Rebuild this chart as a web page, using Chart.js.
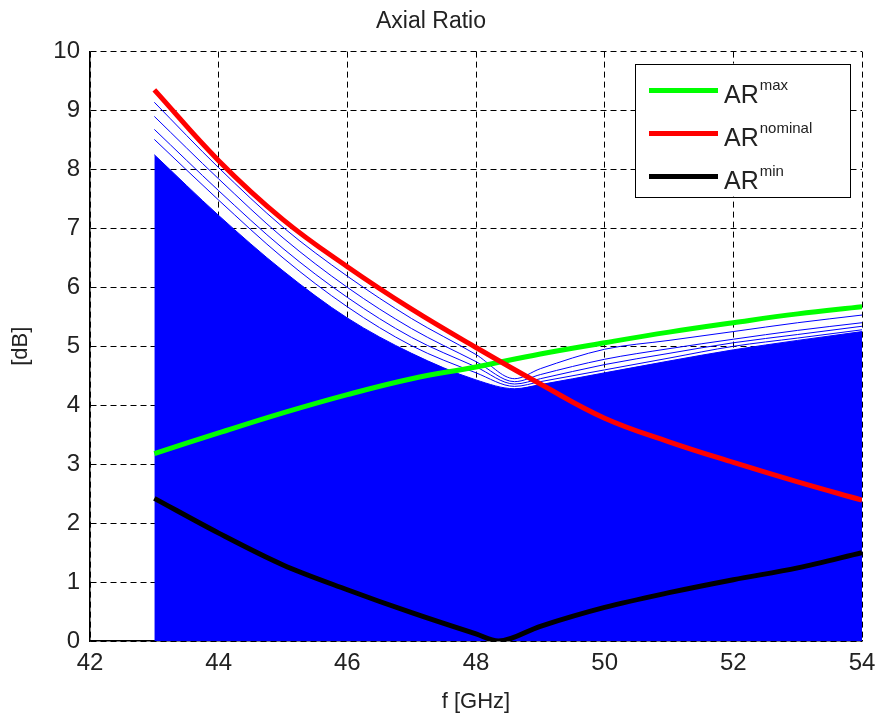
<!DOCTYPE html>
<html>
<head>
<meta charset="utf-8">
<title>Axial Ratio</title>
<script src="https://cdn.jsdelivr.net/npm/chart.js@4/dist/chart.umd.min.js"></script>
<style>
  html, body { margin: 0; padding: 0; background: #fff; }
</style>
</head>
<body>
<canvas id="arChart" width="879" height="717"></canvas>
<script>
// frequency points (GHz)
const freq = [43, 44, 45, 46, 47, 48, 49, 50, 51, 52, 53, 54];
const freqMin = [43, 44, 45, 46, 47, 48, 48.35, 49, 50, 51, 52, 53, 54];
const freqBand = [43, 44, 45, 46, 47, 48, 48.6, 49, 50, 51, 52, 53, 54];

// axial ratio curves (dB)
const arMax = [3.18, 3.53, 3.87, 4.18, 4.45, 4.65, 4.87, 5.06, 5.24, 5.40, 5.55, 5.67];
const arNominal = [9.35, 8.15, 7.15, 6.35, 5.63, 4.98, 4.36, 3.78, 3.38, 3.03, 2.70, 2.39];
const arMin = [2.42, 1.83, 1.29, 0.87, 0.48, 0.12, 0.0, 0.25, 0.57, 0.82, 1.04, 1.24, 1.50];

// blue cloud of simulated curves: solid part and the outer traces
const bandSolid = [8.25, 7.22, 6.28, 5.48, 4.88, 4.43, 4.28, 4.35, 4.55, 4.75, 4.94, 5.10, 5.25];
const bandLine4 = [8.51, 7.48, 6.50, 5.67, 5.01, 4.55, 4.32, 4.40, 4.60, 4.80, 5.00, 5.14, 5.28];
const bandLine3 = [8.68, 7.64, 6.66, 5.83, 5.15, 4.65, 4.36, 4.45, 4.69, 4.88, 5.06, 5.20, 5.34];
const bandLine2 = [8.90, 7.84, 6.84, 6.00, 5.30, 4.74, 4.40, 4.52, 4.78, 4.96, 5.12, 5.27, 5.40];
const bandLine1 = [9.14, 8.03, 7.02, 6.19, 5.47, 4.86, 4.45, 4.62, 4.95, 5.10, 5.25, 5.40, 5.53];

// legend text: base + superscript
const legendBase = 'AR';
const legendSup = ['max', 'nominal', 'min'];

const FONT = "'Liberation Sans', Arial, sans-serif";

function pts(xs, ys) {
    return xs.map((x, i) => ({ x: x, y: ys[i] }));
}

// thin blue trace dataset
function bandLine(data) {
    return {
        data: pts(freqBand, data),
        borderColor: '#0000ff',
        borderWidth: 1,
        pointRadius: 0,
        cubicInterpolationMode: 'monotone',
        fill: false,
        order: 4
    };
}

const datasets = [
    {
        label: legendBase + legendSup[0],
        data: pts(freq, arMax),
        borderColor: '#00ff00',
        borderWidth: 5,
        pointRadius: 0,
        tension: 0.4,
        order: 2
    },
    {
        label: legendBase + legendSup[1],
        data: pts(freq, arNominal),
        borderColor: '#ff0000',
        borderWidth: 5,
        pointRadius: 0,
        tension: 0.4,
        order: 1
    },
    {
        label: legendBase + legendSup[2],
        data: pts(freqMin, arMin),
        borderColor: '#000000',
        borderWidth: 5,
        pointRadius: 0,
        cubicInterpolationMode: 'monotone',
        order: 3
    },
    bandLine(bandLine1),
    bandLine(bandLine2),
    bandLine(bandLine3),
    bandLine(bandLine4),
    {
        data: pts(freqBand, bandSolid),
        borderColor: '#0000ff',
        backgroundColor: '#0000ff',
        borderWidth: 1,
        pointRadius: 0,
        cubicInterpolationMode: 'monotone',
        fill: 'origin',
        order: 5
    }
];

// legend drawn by hand so the superscripts can be shown
const legendBox = {
    id: 'legendBox',
    afterDraw(chart) {
        const ctx = chart.ctx;
        const area = chart.chartArea;
        const w = 215, h = 133;
        const left = area.right - 12 - w;
        const top = area.top + 12;
        ctx.save();
        ctx.fillStyle = '#fff';
        ctx.fillRect(left, top, w, h);
        ctx.strokeStyle = '#000';
        ctx.lineWidth = 1;
        ctx.strokeRect(Math.round(left) + 0.5, Math.round(top) + 0.5, w, h);
        for (let i = 0; i < legendSup.length; i++) {
            const y = top + 27 + i * 43;
            ctx.strokeStyle = chart.data.datasets[i].borderColor;
            ctx.lineWidth = 5;
            ctx.beginPath();
            ctx.moveTo(left + 14, y);
            ctx.lineTo(left + 83, y);
            ctx.stroke();
            ctx.fillStyle = '#222';
            ctx.textBaseline = 'alphabetic';
            ctx.textAlign = 'left';
            ctx.font = '25px ' + FONT;
            ctx.fillText(legendBase, left + 89, y + 12);
            const bw = ctx.measureText(legendBase).width;
            ctx.font = '15px ' + FONT;
            ctx.fillText(legendSup[i], left + 90 + bw, y - 1);
        }
        ctx.restore();
    }
};

const ctx = document.getElementById('arChart');
new Chart(ctx, {
    type: 'line',
    data: { datasets: datasets },
    options: {
        responsive: false,
        animation: false,
        layout: { padding: { left: 0, right: 17, top: 0, bottom: 0 } },
        plugins: {
            legend: { display: false },
            tooltip: { enabled: false },
            title: {
                display: true,
                text: 'Axial Ratio',
                color: '#222',
                font: { family: FONT, size: 23, weight: 'normal' },
                padding: { top: 8, bottom: 16 }
            }
        },
        scales: {
            x: {
                type: 'linear',
                min: 42,
                max: 54,
                ticks: {
                    stepSize: 2,
                    color: '#222',
                    padding: 8,
                    font: { family: FONT, size: 24 }
                },
                grid: {
                    color: '#000',
                    lineWidth: 1,
                    drawTicks: false
                },
                border: { display: true, color: '#000', width: 1.5, dash: [6, 4] },
                title: {
                    display: true,
                    text: 'f [GHz]',
                    color: '#222',
                    font: { family: FONT, size: 22 },
                    padding: { top: 4, bottom: 2 }
                },
                afterFit(scale) {
                    scale.height = 76;
                    // the last tick label may hang into the right padding
                    scale.paddingRight = 0;
                    scale.paddingLeft = 0;
                }
            },
            y: {
                min: 0,
                max: 10,
                ticks: {
                    stepSize: 1,
                    color: '#222',
                    padding: 10,
                    font: { family: FONT, size: 24 }
                },
                grid: {
                    color: '#000',
                    lineWidth: 1,
                    drawTicks: false
                },
                border: { display: true, color: '#000', width: 1.5, dash: [6, 4] },
                title: {
                    display: true,
                    text: '[dB]',
                    color: '#222',
                    font: { family: FONT, size: 22 },
                    padding: { top: 8, bottom: 0 }
                },
                afterFit(scale) { scale.width = 90; }
            }
        }
    },
    plugins: [legendBox]
});
</script>
</body>
</html>
